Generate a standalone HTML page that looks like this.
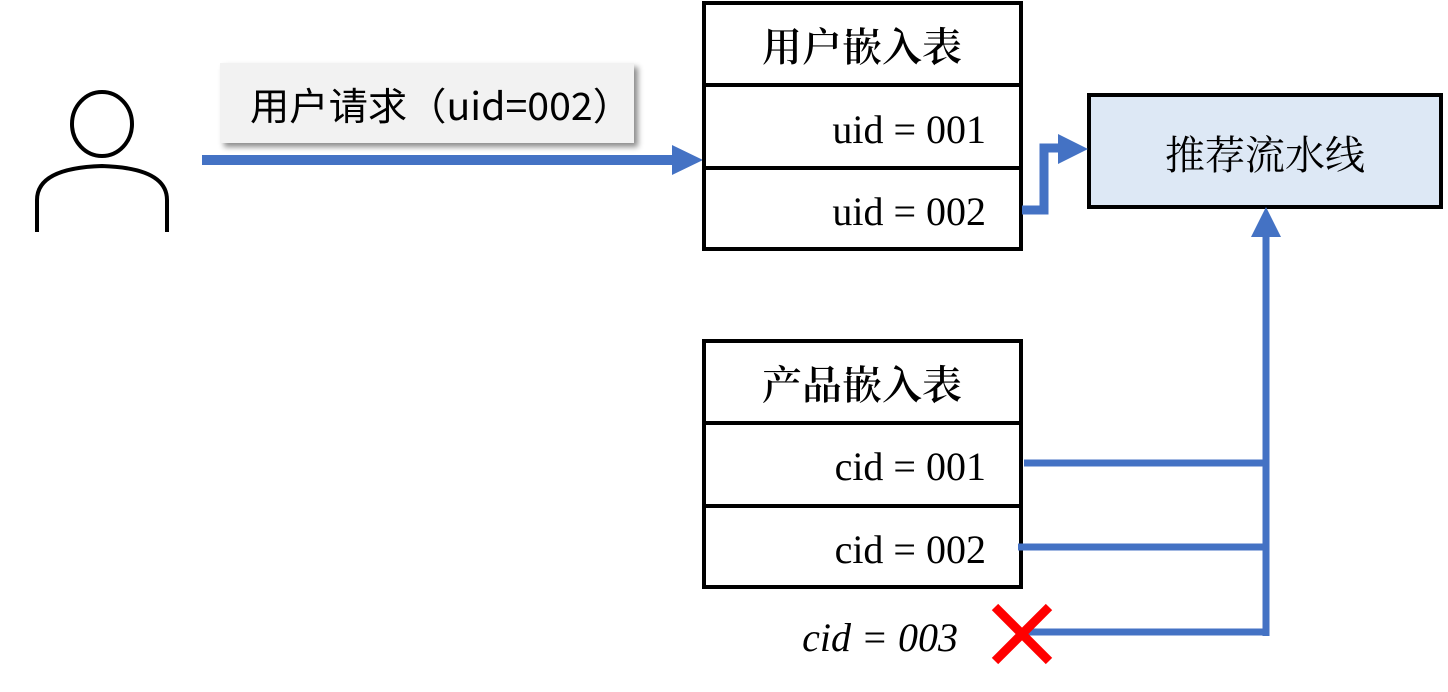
<!DOCTYPE html>
<html><head><meta charset="utf-8"><style>
html,body{margin:0;padding:0;background:#fff;width:1448px;height:692px;overflow:hidden}
</style></head><body>
<svg width="1448" height="692" xmlns="http://www.w3.org/2000/svg">
<defs><filter id="sh" x="-10%" y="-20%" width="130%" height="160%"><feDropShadow dx="4" dy="4" stdDeviation="3" flood-color="#000" flood-opacity="0.45"/></filter></defs>
<g fill="none" stroke="#000" stroke-width="4">
<ellipse cx="102" cy="124" rx="30" ry="32"/>
<path d="M37 232 V200 Q37 168 102 166 Q167 168 167 200 V232"/>
</g>
<rect x="220" y="63" width="414" height="80" fill="#f2f2f2" filter="url(#sh)"/>
<text x="250" y="120" font-family="'Noto Sans CJK SC','Liberation Mono',monospace" font-size="38" fill="#000" textLength="382" lengthAdjust="spacingAndGlyphs">用户请求（uid=002）</text>
<rect x="202" y="155" width="472" height="10" fill="#4472c4"/>
<polygon points="672,145 703,160 672,175" fill="#4472c4"/>
<g fill="#fff" stroke="#000" stroke-width="4">
<rect x="704" y="3" width="317" height="246"/>
<line x1="704" y1="85" x2="1021" y2="85"/>
<line x1="704" y1="168" x2="1021" y2="168"/>
<rect x="704" y="341" width="317" height="246"/>
<line x1="704" y1="423" x2="1021" y2="423"/>
<line x1="704" y1="506" x2="1021" y2="506"/>
</g>
<g font-family="'Liberation Serif','Noto Serif CJK SC',serif" font-size="40" fill="#000">
<text x="862" y="61" text-anchor="middle" font-weight="600">用户嵌入表</text>
<text x="986" y="143" text-anchor="end">uid = 001</text>
<text x="986" y="225" text-anchor="end">uid = 002</text>
<text x="862" y="399" text-anchor="middle" font-weight="600">产品嵌入表</text>
<text x="986" y="480" text-anchor="end">cid = 001</text>
<text x="986" y="563" text-anchor="end">cid = 002</text>
<text x="958" y="651" text-anchor="end" font-style="italic">cid = 003</text>
</g>
<rect x="1089" y="95" width="352" height="112" fill="#dde8f5" stroke="#000" stroke-width="4"/>
<text x="1265" y="169" text-anchor="middle" font-family="'Noto Serif CJK SC',serif" font-size="40">推荐流水线</text>
<path d="M1022 210 H1044 V148 H1062" fill="none" stroke="#4472c4" stroke-width="9"/>
<polygon points="1058,134 1088,149 1058,164" fill="#4472c4"/>
<g stroke="#4472c4" stroke-width="7" fill="none">
<line x1="1266" y1="636" x2="1266" y2="232"/>
<line x1="1024" y1="463" x2="1266" y2="463"/>
<line x1="1018" y1="547" x2="1266" y2="547"/>
<line x1="1022" y1="632" x2="1269" y2="632"/>
</g>
<polygon points="1251,237 1266,207 1281,237" fill="#4472c4"/>
<g stroke="#ff0000" stroke-width="9">
<line x1="995" y1="607" x2="1049" y2="661"/>
<line x1="1049" y1="607" x2="995" y2="661"/>
</g>
</svg>
</body></html>
